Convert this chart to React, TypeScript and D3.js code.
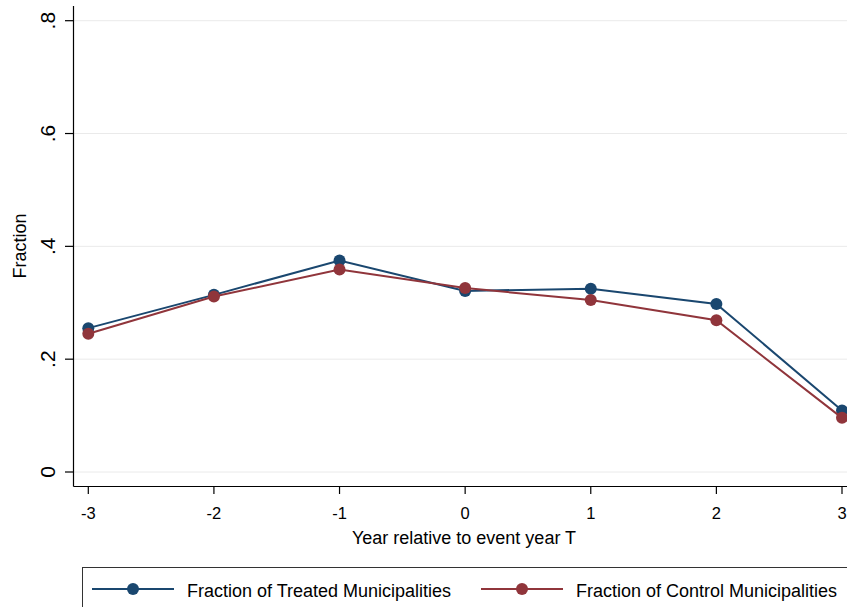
import React from "react";
import * as d3 from "d3";

const width = 847;
const height = 607;

const years = [-3, -2, -1, 0, 1, 2, 3];
const treated = [0.255, 0.314, 0.375, 0.321, 0.325, 0.298, 0.109];
const control = [0.245, 0.311, 0.359, 0.326, 0.305, 0.269, 0.096];
const yTicks = [0, 0.2, 0.4, 0.6, 0.8];
const yTickLabels = ["0", ".2", ".4", ".6", ".8"];

const seriesNames = [
  "Fraction of Treated Municipalities",
  "Fraction of Control Municipalities",
];
const colors = ["#1a476f", "#90353b"];

const font = "'Liberation Sans', Arial, sans-serif";

const xScale = d3.scaleLinear().domain([-3, 3]).range([88.3, 842]);
const yScale = d3.scaleLinear().domain([0, 0.8]).range([472, 20.7]);

const axisX = 73.5;
const axisY = 486.5;

export default function App() {
  const line = d3
    .line<number>()
    .x((_, i) => xScale(years[i]))
    .y((d) => yScale(d));

  const series = [treated, control];

  return (
    <div style={{ position: "absolute", left: 0, top: 0 }}>
      <svg width={width} height={height} style={{ display: "block" }}>
        <rect x={0} y={0} width={width} height={height} fill="#fff" />

        {/* grid */}
        {yTicks.map((t) => (
          <line
            key={"g" + t}
            x1={axisX}
            x2={width}
            y1={yScale(t)}
            y2={yScale(t)}
            stroke="#eaeaea"
            strokeWidth={1}
          />
        ))}

        {/* y axis */}
        <line x1={axisX} x2={axisX} y1={6} y2={axisY} stroke="#000" strokeWidth={1.2} />
        {yTicks.map((t, i) => (
          <g key={"y" + t}>
            <line x1={65} x2={axisX} y1={yScale(t)} y2={yScale(t)} stroke="#000" strokeWidth={1.2} />
            <text
              transform={`translate(55,${yScale(t)}) rotate(-90)`}
              textAnchor="middle"
              fontFamily={font}
              fontSize={21}
              fill="#000"
            >
              {yTickLabels[i]}
            </text>
          </g>
        ))}
        <text
          transform="translate(26,246) rotate(-90)"
          textAnchor="middle"
          fontFamily={font}
          fontSize={18}
          fill="#000"
        >
          Fraction
        </text>

        {/* x axis */}
        <line x1={axisX} x2={width} y1={axisY} y2={axisY} stroke="#000" strokeWidth={1.2} />
        {years.map((yr) => (
          <g key={"x" + yr}>
            <line x1={xScale(yr)} x2={xScale(yr)} y1={axisY} y2={494} stroke="#000" strokeWidth={1.2} />
            <text
              x={xScale(yr)}
              y={519}
              textAnchor="middle"
              fontFamily={font}
              fontSize={16.5}
              fill="#000"
            >
              {yr}
            </text>
          </g>
        ))}
        <text
          x={464}
          y={544}
          textAnchor="middle"
          fontFamily={font}
          fontSize={18}
          fill="#000"
        >
          Year relative to event year T
        </text>

        {/* series */}
        {series.map((s, si) => (
          <g key={"s" + si}>
            <path d={line(s) || ""} fill="none" stroke={colors[si]} strokeWidth={2} />
            {s.map((v, i) => (
              <circle key={i} cx={xScale(years[i])} cy={yScale(v)} r={6} fill={colors[si]} />
            ))}
          </g>
        ))}

        {/* legend */}
        <rect x={82.5} y={567.5} width={800} height={60} fill="#fff" stroke="#333" strokeWidth={1} />
        {seriesNames.map((name, i) => {
          const x0 = i === 0 ? 92 : 481;
          return (
            <g key={"l" + i}>
              <line x1={x0} x2={x0 + 82} y1={589} y2={589} stroke={colors[i]} strokeWidth={2} />
              <circle cx={x0 + 41} cy={589} r={6} fill={colors[i]} />
              <text
                x={x0 + 95}
                y={596.5}
                fontFamily={font}
                fontSize={18}
                fill="#000"
              >
                {name}
              </text>
            </g>
          );
        })}
      </svg>
    </div>
  );
}
